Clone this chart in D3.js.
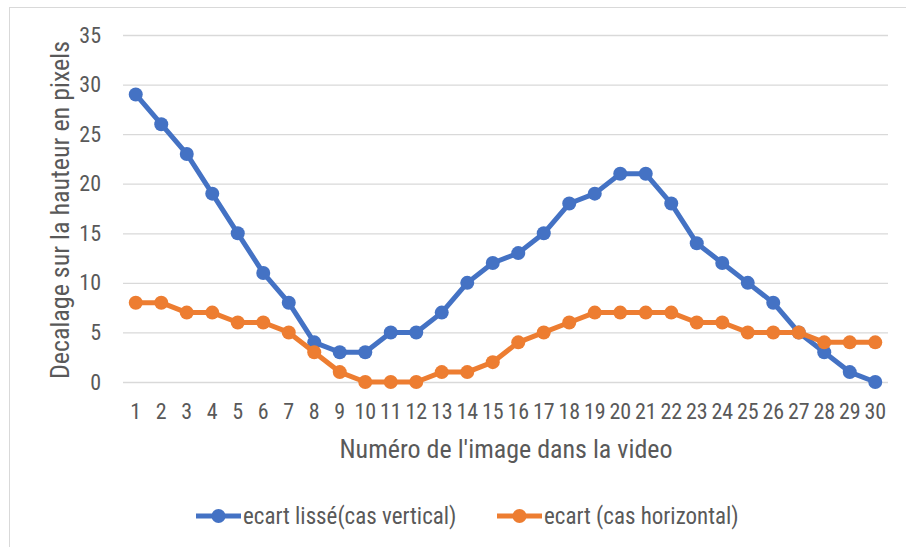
<!DOCTYPE html>
<html>
<head>
<meta charset="utf-8">
<script src="https://cdn.jsdelivr.net/npm/d3@7"></script>
<style>
  body { margin: 0; background: #fff; }
  text { font-family: "Liberation Sans Narrow", "Roboto Condensed", Roboto, sans-serif; fill: #595959; }
</style>
</head>
<body>
<div id="chart"></div>
<script>
var frames = d3.range(1, 31);
var ecartVertical = [29,26,23,19,15,11,8,4,3,3,5,5,7,10,12,13,15,18,19,21,21,18,14,12,10,8,5,3,1,0];
var ecartHorizontal = [8,8,7,7,6,6,5,3,1,0,0,0,1,1,2,4,5,6,7,7,7,7,6,6,5,5,5,4,4,4];
var yTicks = [0,5,10,15,20,25,30,35];
var seriesNames = ["ecart lissé(cas vertical)", "ecart (cas horizontal)"];
var colors = ["#4472C4", "#ED7D31"];

var W = 906, H = 547;
var margin = {top: 35, right: 18, bottom: 165, left: 123};
var width = W - margin.left - margin.right,
    height = 382 - margin.top;

var svg = d3.select("#chart").append("svg")
    .attr("width", W)
    .attr("height", H);

// chart border
svg.append("rect")
    .attr("x", 9.5).attr("y", 7.5)
    .attr("width", W).attr("height", H)
    .attr("fill", "none")
    .attr("stroke", "#d9d9d9");

var g = svg.append("g")
    .attr("transform", "translate(" + margin.left + "," + margin.top + ")");

var x = d3.scaleBand()
    .domain(frames)
    .range([0, 765]);

var y = d3.scaleLinear()
    .domain([0, 35])
    .range([height, 0]);

// grid
g.append("g")
    .call(d3.axisLeft(y).tickValues(yTicks).tickSize(-765).tickFormat(""))
    .call(function(a){ a.select(".domain").remove(); })
    .selectAll("line")
        .attr("stroke", "#d9d9d9")
        .attr("stroke-width", 1.3);

// y labels
g.append("g")
    .call(d3.axisLeft(y).tickValues(yTicks).tickSize(0).tickPadding(22))
    .call(function(a){ a.select(".domain").remove(); })
    .selectAll("text")
        .style("font-size", "22px")
        .attr("fill", "#595959");

// x labels
g.append("g")
    .attr("transform", "translate(0," + height + ")")
    .call(d3.axisBottom(x).tickSize(0).tickPadding(21))
    .call(function(a){ a.select(".domain").remove(); })
    .selectAll("text")
        .style("font-size", "22px")
        .attr("fill", "#595959");

// axis titles
svg.append("text")
    .attr("transform", "rotate(-90)")
    .attr("x", -210)
    .attr("y", 69)
    .style("text-anchor", "middle")
    .style("font-size", "26px")
    .text("Decalage sur la hauteur en pixels");

svg.append("text")
    .attr("x", 506)
    .attr("y", 458)
    .style("text-anchor", "middle")
    .style("font-size", "26px")
    .text("Numéro de l'image dans la video");

var line = d3.line()
    .x(function(d, i) { return x(frames[i]) + x.bandwidth() / 2; })
    .y(function(d) { return y(d); });

[ecartVertical, ecartHorizontal].forEach(function(data, k) {
    g.append("path")
        .datum(data)
        .attr("fill", "none")
        .attr("stroke", colors[k])
        .attr("stroke-width", 5)
        .attr("stroke-linejoin", "round")
        .attr("d", line);
    g.selectAll(".pt" + k)
        .data(data)
        .enter().append("circle")
        .attr("cx", function(d, i) { return x(frames[i]) + x.bandwidth() / 2; })
        .attr("cy", function(d) { return y(d); })
        .attr("r", 7)
        .attr("fill", colors[k]);
});

// legend
var legX = [196, 497];
seriesNames.forEach(function(name, k) {
    var lg = svg.append("g").attr("transform", "translate(" + legX[k] + ",516)");
    lg.append("line")
        .attr("x1", 0).attr("x2", 45)
        .attr("stroke", colors[k])
        .attr("stroke-width", 5);
    lg.append("circle")
        .attr("cx", 22.5).attr("r", 7)
        .attr("fill", colors[k]);
    lg.append("text")
        .attr("x", 47)
        .attr("dy", "0.35em")
        .style("font-size", "23px")
        .text(name);
});
</script>
</body>
</html>
